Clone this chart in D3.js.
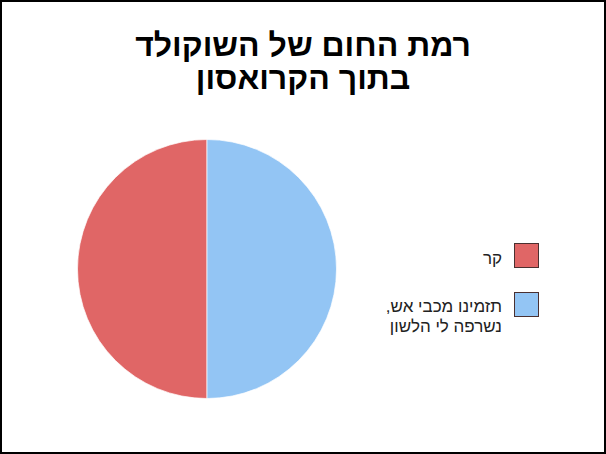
<!DOCTYPE html>
<html><head><meta charset="utf-8">
<script src="https://cdn.jsdelivr.net/npm/d3@7"></script>
<style>
html,body{margin:0;padding:0;background:#fff;}
svg{display:block;}
text{font-family:"Liberation Sans",Arial,sans-serif;}
</style></head>
<body>
<svg id="chart" width="606" height="454"></svg>
<script>
const titleLines = ["רמת החום של השוקולד", "בתוך הקרואסון"];
const categories = ["קר", "תזמינו מכבי אש, נשרפה לי הלשון"];
const legendLines = [["קר"], ["תזמינו מכבי אש,", "נשרפה לי הלשון"]];
const values = [50, 50];
const colors = ["#e06666", "#93c5f4"];

const W = 606, H = 454;
const svg = d3.select("#chart");

svg.append("rect").attr("x",1).attr("y",1).attr("width",W-2).attr("height",H-2)
  .attr("fill","#fff").attr("stroke","#000").attr("stroke-width",2);

// title
svg.append("g").selectAll("text").data(titleLines).join("text")
  .attr("x", 303).attr("y", (d,i)=>56 + i*33)
  .attr("text-anchor","middle").attr("direction","rtl")
  .attr("font-size", 32).attr("font-weight","bold").attr("fill","#000")
  .text(d=>d);

// pie
const cx = 207, cy = 269, r = 129.5;
const pie = d3.pie().sort(null).value(d=>d).startAngle(Math.PI).endAngle(3*Math.PI);
const arc = d3.arc().innerRadius(0).outerRadius(r);
svg.append("g").attr("transform",`translate(${cx},${cy})`)
  .selectAll("path").data(pie(values)).join("path")
  .attr("d", arc).attr("fill",(d,i)=>colors[i])
  .attr("stroke","#fff").attr("stroke-width",0.7);

// legend
const lg = svg.append("g");
const rowY = [243, 292];
const baseOff = [21, 20];
categories.forEach((c,i)=>{
  lg.append("rect").attr("x",514.5).attr("y",rowY[i]+0.5).attr("width",24).attr("height",24)
    .attr("fill",colors[i]).attr("stroke","#4a3030").attr("stroke-width",1);
  const t = lg.append("text").attr("direction","rtl").attr("text-anchor","start")
    .attr("font-size",17).attr("fill","#222");
  legendLines[i].forEach((line,j)=>{
    t.append("tspan").attr("x",502).attr("y",rowY[i]+baseOff[i]+j*20).text(line);
  });
});
</script>
</body></html>
